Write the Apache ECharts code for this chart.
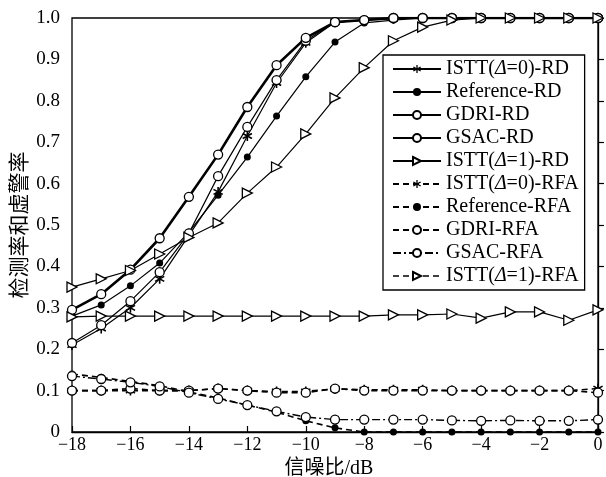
<!DOCTYPE html>
<html>
<head>
<meta charset="utf-8">
<script src="https://cdn.jsdelivr.net/npm/echarts@6/dist/echarts.min.js"></script>
<style>
  html, body { margin: 0; padding: 0; background: #fff; }
  #chart { width: 606px; height: 477px; }
</style>
</head>
<body>
<div id="chart"></div>
<script>
// 信噪比 (横轴)
var snr = [-18, -17, -16, -15, -14, -13, -12, -11, -10, -9, -8, -7, -6, -5, -4, -3, -2, -1, 0];
var yTicks = [0, 0.1, 0.2, 0.3, 0.4, 0.5, 0.6, 0.7, 0.8, 0.9, 1.0];

// 检测率 RD
var istt0Rd = [0.21, 0.25, 0.30, 0.37, 0.475, 0.58, 0.715, 0.843, 0.94, 0.99, 0.995, 0.998, 1, 1, 1, 1, 1, 1, 1];
var refRd   = [0.28, 0.307, 0.353, 0.408, 0.483, 0.572, 0.664, 0.763, 0.858, 0.942, 0.988, 0.995, 1, 1, 1, 1, 1, 1, 1];
var gdriRd  = [0.215, 0.258, 0.316, 0.386, 0.48, 0.618, 0.737, 0.85, 0.945, 0.99, 0.995, 1, 1, 1, 1, 1, 1, 1, 1];
var gsacRd  = [0.295, 0.333, 0.392, 0.468, 0.568, 0.67, 0.785, 0.886, 0.952, 0.99, 0.995, 1, 1, 1, 1, 1, 1, 1, 1];
var istt1Rd = [0.35, 0.37, 0.39, 0.43, 0.47, 0.505, 0.577, 0.64, 0.72, 0.807, 0.88, 0.945, 0.978, 0.995, 1, 1, 1, 1, 1];

// 虚警率 RFA
var istt0Rfa = [0.10, 0.10, 0.10, 0.10, 0.10, 0.105, 0.10, 0.098, 0.098, 0.104, 0.102, 0.102, 0.102, 0.10, 0.10, 0.10, 0.10, 0.10, 0.105];
var refRfa   = [0.14, 0.132, 0.122, 0.112, 0.097, 0.082, 0.065, 0.048, 0.027, 0.01, 0, 0, 0, 0, 0, 0, 0, 0, 0];
var gdriRfa  = [0.10, 0.10, 0.105, 0.10, 0.10, 0.105, 0.10, 0.095, 0.095, 0.105, 0.10, 0.10, 0.10, 0.10, 0.10, 0.10, 0.10, 0.10, 0.095];
var gsacRfa  = [0.135, 0.128, 0.12, 0.11, 0.095, 0.08, 0.065, 0.05, 0.036, 0.03, 0.03, 0.03, 0.03, 0.028, 0.027, 0.028, 0.027, 0.027, 0.03];
var istt1Rfa = [0.278, 0.28, 0.28, 0.28, 0.28, 0.28, 0.28, 0.28, 0.28, 0.28, 0.28, 0.283, 0.283, 0.285, 0.275, 0.29, 0.29, 0.27, 0.295];

var FONT = "'Liberation Serif', 'Noto Sans CJK SC', serif";

// 标记形状
var STAR = 'path://M8.5,0 L11.5,0 L11.5,20 L8.5,20 Z ' +
           'M0.59,6.30 L2.09,3.70 L19.41,13.70 L17.91,16.30 Z ' +
           'M17.91,3.70 L19.41,6.30 L2.09,16.30 L0.59,13.70 Z';
var TRI = 'path://M0,0 L10,5 L0,10 Z';

function pairs(values) {
    return snr.map(function (x, i) { return [x, values[i]]; });
}

function makeSeries(name, values, symbol, size, hollow, dash, width) {
    return {
        name: name,
        type: 'line',
        data: pairs(values),
        symbol: symbol,
        symbolSize: size,
        showAllSymbol: true,
        animation: false,
        lineStyle: { color: '#000', width: width, type: dash },
        itemStyle: {
            color: hollow ? '#fff' : '#000',
            borderColor: '#000',
            borderWidth: hollow ? 1.3 : 0
        },
        emphasis: { disabled: true }
    };
}

var DASH = [6, 4];
var DASHDOT = [8, 3, 2, 3];

var series = [
    makeSeries('ISTT(Δ=0)-RD', istt0Rd, STAR, 10, false, 'solid', 1.2),
    makeSeries('Reference-RD', refRd, 'circle', 7, false, 'solid', 1.2),
    makeSeries('GDRI-RD', gdriRd, 'circle', 9, true, 'solid', 1.2),
    makeSeries('GSAC-RD', gsacRd, 'circle', 9, true, 'solid', 2.6),
    makeSeries('ISTT(Δ=1)-RD', istt1Rd, TRI, 10, true, 'solid', 1.2),
    makeSeries('ISTT(Δ=0)-RFA', istt0Rfa, STAR, 10, false, DASH, 1.6),
    makeSeries('Reference-RFA', refRfa, 'circle', 7, false, DASH, 1.6),
    makeSeries('GDRI-RFA', gdriRfa, 'circle', 9, true, DASH, 1.6),
    makeSeries('GSAC-RFA', gsacRfa, 'circle', 9, true, DASHDOT, 1.4),
    makeSeries('ISTT(Δ=1)-RFA', istt1Rfa, TRI, 10, true, 'solid', 1.2)
];

// 图例: ISTT(Δ=1)-RFA 图例用虚线
var legendData = series.map(function (s) {
    if (s.name === 'ISTT(Δ=1)-RFA') {
        return { name: s.name, lineStyle: { type: DASH, width: 1.4 } };
    }
    return { name: s.name };
});

var myChart = echarts.init(document.getElementById('chart'));

myChart.setOption({
    backgroundColor: '#fff',
    animation: false,
    grid: {
        left: 72,
        right: 8,
        top: 18,
        bottom: 45,
        containLabel: false,
        outerBoundsMode: 'none',
        show: true,
        borderColor: '#000',
        borderWidth: 1.3,
        backgroundColor: 'transparent'
    },
    legend: {
        orient: 'vertical',
        left: 383,
        top: 55,
        data: legendData,
        selectedMode: false,
        backgroundColor: '#fff',
        borderColor: '#000',
        borderWidth: 1.3,
        borderRadius: 0,
        padding: [4, 6, 4, 9],
        itemGap: 3,
        itemWidth: 48,
        itemHeight: 10,
        formatter: function (name) {
            return name.replace('Δ', '{i|Δ}');
        },
        textStyle: {
            color: '#000',
            fontFamily: FONT,
            fontSize: 20,
            lineHeight: 20,
            rich: {
                i: { fontStyle: 'italic', fontFamily: FONT, fontSize: 20, color: '#000' }
            }
        }
    },
    xAxis: {
        type: 'value',
        min: -18,
        max: 0,
        interval: 2,
        name: '信噪比/dB',
        nameLocation: 'middle',
        nameGap: 21,
        nameTextStyle: { color: '#000', fontFamily: FONT, fontSize: 20, padding: [0, 12, 0, 0] },
        axisLine: { lineStyle: { color: '#000', width: 1.3 } },
        axisTick: { inside: true, length: 6, lineStyle: { color: '#000', width: 1.2 } },
        axisLabel: {
            color: '#000',
            fontFamily: FONT,
            fontSize: 18,
            margin: 4,
            formatter: function (v) { return v < 0 ? '\u2212' + (-v) : String(v); }
        },
        splitLine: { show: false }
    },
    yAxis: {
        type: 'value',
        min: yTicks[0],
        max: yTicks[yTicks.length - 1],
        interval: 0.1,
        name: '检测率和虚警率',
        nameLocation: 'middle',
        nameRotate: 90,
        nameGap: 41,
        nameMoveOverlap: false,
        nameTextStyle: { color: '#000', fontFamily: FONT, fontSize: 21 },
        axisLine: { show: true, lineStyle: { color: '#000', width: 1.3 } },
        axisTick: { show: true, inside: true, length: 6, lineStyle: { color: '#000', width: 1.2 } },
        axisLabel: {
            color: '#000',
            fontFamily: FONT,
            fontSize: 19,
            margin: 12,
            formatter: function (v) { return v === 0 ? '0' : v.toFixed(1); }
        },
        splitLine: { show: false }
    },
    series: series
});
</script>
</body>
</html>
